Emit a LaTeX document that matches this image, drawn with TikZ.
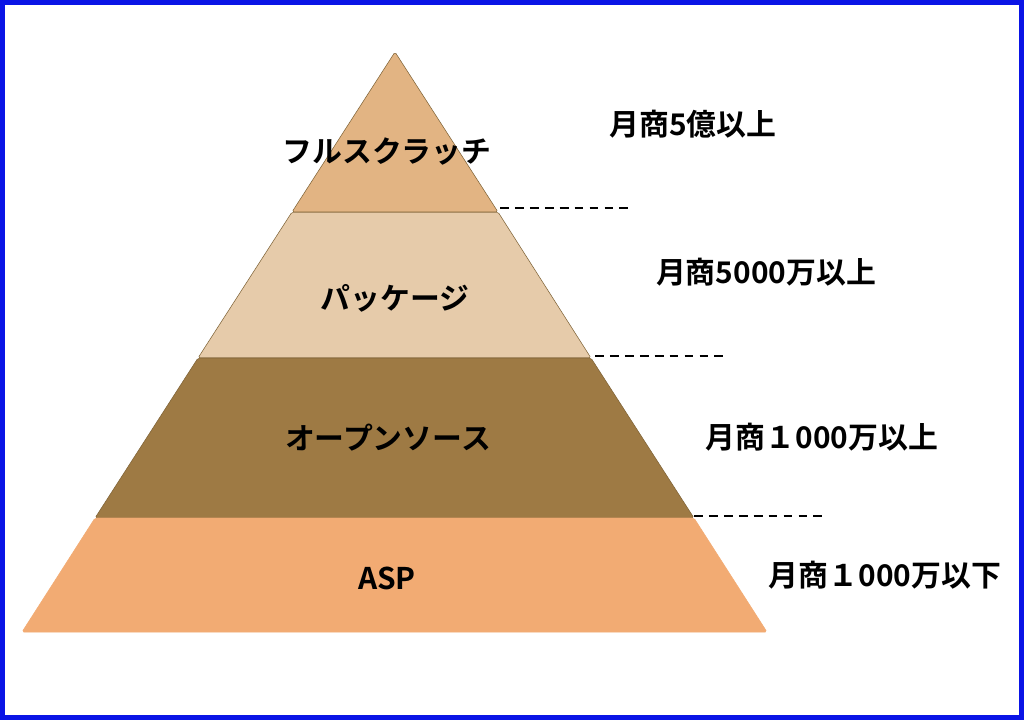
\documentclass[tikz,border=0pt]{standalone}
\usepackage{fontspec}
\newfontfamily\cjk{Noto Sans CJK JP}[BoldFont={Noto Sans CJK JP Bold}]
\usetikzlibrary{calc}
\definecolor{bandA}{HTML}{E2B483}
\definecolor{bandB}{HTML}{E6CBAA}
\definecolor{bandC}{HTML}{9E7A44}
\definecolor{bandD}{HTML}{F2AB73}
\definecolor{frameblue}{HTML}{0A14E6}
\tikzset{band/.style={draw=bandC!80!black, line width=0.3pt, rounded corners=1pt}}
\tikzset{lbl/.style={font=\cjk\bfseries\fontsize{17}{20}\selectfont, inner sep=0pt}}
\tikzset{lined/.style={thick, black, dash pattern=on 5pt off 3.5pt}}

\begin{document}
\begin{tikzpicture}[x=0.02cm, y=-0.02cm]
	
		% Frame
		\fill[white] (0,0) rectangle (1024,720);
		\draw[frameblue, line width=0.1cm] (2.5,2.5) rectangle (1021.5,717.5);
		\useasboundingbox (0,0) rectangle (1024,720);
		
		% Coordinates
		\coordinate (top) at (395,52);
		\coordinate (l1) at (292,212); \coordinate (r1) at (498,212);
		\coordinate (l2) at (198,358); \coordinate (r2) at (591,358);
		\coordinate (l3) at (95,518);  \coordinate (r3) at (694,518);
		\coordinate (l4) at (22,632);  \coordinate (r4) at (767,632);
		
		% Bands
		\draw[band, fill=bandB] (l1) -- (r1) -- (r2) -- (l2) -- cycle;
		\draw[band, fill=bandA] (top) -- (r1) -- (l1) -- cycle;
		\draw[band, fill=bandC] (l2) -- (r2) -- (r3) -- (l3) -- cycle;
		\draw[band, draw=bandD, fill=bandD] (l3) -- (r3) -- (r4) -- (l4) -- cycle;
		
		% Dashed
		\coordinate (d1) at (632,208);
		\coordinate (d2) at (726,356);
		\coordinate (d3) at (824,516);
		\draw[lined] ($(r1)+(2,-4)$) -- (d1);
		\draw[lined] ($(r2)+(4,-2)$) -- (d2);
		\draw[lined] ($(r3)+(0,-2)$) -- (d3);
		
		% Nodes
		\node[lbl] (full) at (387,152) {フルスクラッチ};
		\node[lbl] (pkg) at (395,298) {パッケージ};
		\node[lbl] (oss) at (388,438) {オープンソース};
		\node[lbl] (asp) at (387,578) {ASP};
		\node[lbl] (s1) at (693,124) {月商5億以上};
		\node[lbl] (s2) at (766,272) {月商5000万以上};
		\node[lbl] (s3) at (822,437) {月商１000万以上};
		\node[lbl] (s4) at (885,575) {月商１000万以下};
	\end{tikzpicture}
\end{document}
